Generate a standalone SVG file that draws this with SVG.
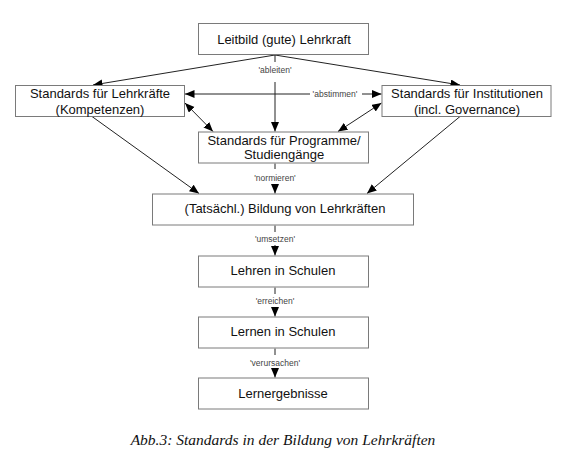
<svg xmlns="http://www.w3.org/2000/svg" width="564" height="465" viewBox="0 0 564 465">
<defs>
<style>
.box{fill:#fff;stroke:#7a7a7a;stroke-width:1}
.t{font-family:"Liberation Sans",Arial,sans-serif;font-size:13px;fill:#111;text-anchor:middle}
.l{font-family:"Liberation Sans",Arial,sans-serif;font-size:8.5px;fill:#444;text-anchor:middle}
.c{fill:none;stroke:#222;stroke-width:1}
.cap{font-family:"Liberation Serif","Times New Roman",serif;font-style:italic;font-size:15.5px;fill:#111;text-anchor:middle}
</style>
<marker id="ah" markerUnits="userSpaceOnUse" markerWidth="11" markerHeight="9" refX="9.5" refY="4" orient="auto-start-reverse" viewBox="0 0 11 9">
<path d="M0,0 L9.5,4 L0,8 z" fill="#000"/>
</marker>
</defs>
<rect width="564" height="465" fill="#fff"/>
<g id="connectors">
<line class="c" x1="275" y1="55" x2="93" y2="85" marker-end="url(#ah)"/>
<line class="c" x1="275" y1="55" x2="460" y2="85" marker-end="url(#ah)"/>
<line class="c" x1="275" y1="55" x2="275" y2="62"/>
<line class="c" x1="275" y1="82" x2="275" y2="131.5" marker-end="url(#ah)"/>
<line class="c" x1="310" y1="94" x2="185" y2="94" marker-end="url(#ah)"/>
<line class="c" x1="362" y1="94" x2="381.5" y2="94" marker-end="url(#ah)"/>
<line class="c" x1="185" y1="103" x2="213" y2="131.5" marker-start="url(#ah)" marker-end="url(#ah)"/>
<line class="c" x1="381.5" y1="103" x2="338" y2="131.5" marker-start="url(#ah)" marker-end="url(#ah)"/>
<line class="c" x1="92" y1="116.5" x2="199" y2="193.5" marker-end="url(#ah)"/>
<line class="c" x1="460" y1="116.5" x2="367" y2="193.5" marker-end="url(#ah)"/>
<line class="c" x1="275" y1="163.5" x2="275" y2="169"/>
<line class="c" x1="275" y1="184" x2="275" y2="193.5" marker-end="url(#ah)"/>
<line class="c" x1="275" y1="225.5" x2="275" y2="232"/>
<line class="c" x1="275" y1="245" x2="275" y2="255.5" marker-end="url(#ah)"/>
<line class="c" x1="275" y1="287.5" x2="275" y2="294"/>
<line class="c" x1="275" y1="307" x2="275" y2="316.5" marker-end="url(#ah)"/>
<line class="c" x1="275" y1="348.5" x2="275" y2="355"/>
<line class="c" x1="275" y1="368" x2="275" y2="377.5" marker-end="url(#ah)"/>
<text class="l" x="275" y="73">'ableiten'</text>
<text class="l" x="335" y="97">'abstimmen'</text>
<text class="l" x="275" y="181">'normieren'</text>
<text class="l" x="275" y="242">'umsetzen'</text>
<text class="l" x="275" y="304">'erreichen'</text>
<text class="l" x="275" y="366">'verursachen'</text>
</g>
<g id="n-leitbild"><rect class="box" x="198.5" y="23.5" width="170" height="31"/><text class="t" x="284" y="43.5">Leitbild (gute) Lehrkraft</text></g>
<g id="n-lehrkraefte"><rect class="box" x="15.5" y="85.5" width="169" height="31"/><text class="t" x="100" y="97.5">Standards für Lehrkräfte</text><text class="t" x="100" y="113.5">(Kompetenzen)</text></g>
<g id="n-institutionen"><rect class="box" x="382" y="85.5" width="169" height="31"/><text class="t" x="467" y="97.5">Standards für Institutionen</text><text class="t" x="467" y="113.5">(incl. Governance)</text></g>
<g id="n-programme"><rect class="box" x="198.5" y="132" width="170" height="31"/><text class="t" x="284" y="144.5">Standards für Programme/</text><text class="t" x="284" y="158.5">Studiengänge</text></g>
<g id="n-bildung"><rect class="box" x="152.5" y="194" width="261" height="31"/><text class="t" x="285" y="213">(Tatsächl.) Bildung von Lehrkräften</text></g>
<g id="n-lehren"><rect class="box" x="198.5" y="256" width="170" height="31"/><text class="t" x="283" y="275">Lehren in Schulen</text></g>
<g id="n-lernen"><rect class="box" x="198.5" y="317" width="170" height="31"/><text class="t" x="283" y="336">Lernen in Schulen</text></g>
<g id="n-ergebnisse"><rect class="box" x="198.5" y="378" width="170" height="31"/><text class="t" x="283" y="398">Lernergebnisse</text></g>
<text class="cap" x="283" y="445">Abb.3: Standards in der Bildung von Lehrkräften</text>
</svg>
